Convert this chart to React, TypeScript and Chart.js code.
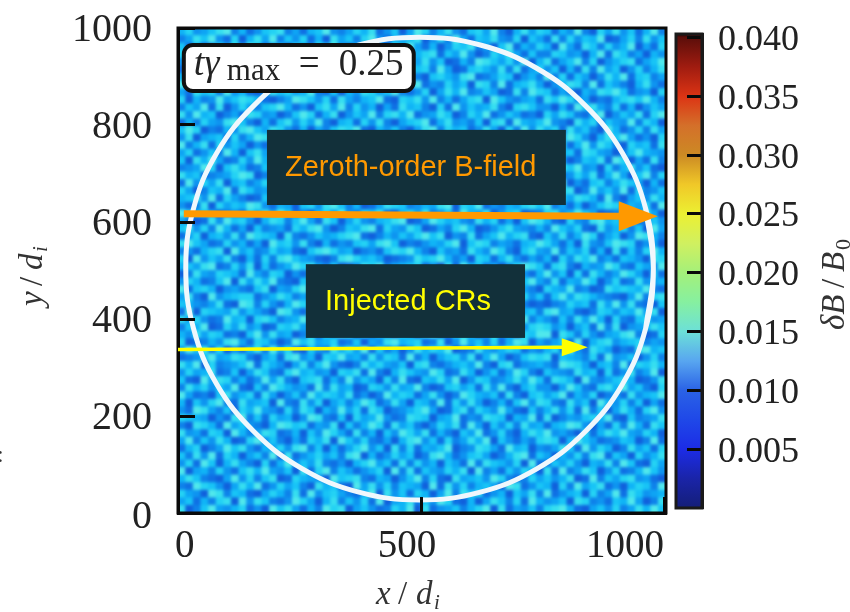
import React, { useEffect, useRef } from "react";
import { Chart, registerables } from "chart.js";
Chart.register(...registerables);

const SERIF = '"Liberation Serif", serif';
const SANS = '"Liberation Sans", sans-serif';

const xTicks = [0, 500, 1000];
const yTicks = [0, 200, 400, 600, 800, 1000];
const colorbarTicks = [0.005, 0.01, 0.015, 0.02, 0.025, 0.03, 0.035, 0.04];
const colorbarLevels = [0, 0.0025, 0.005, 0.0075, 0.01, 0.0125, 0.015, 0.0175, 0.02, 0.0225, 0.025, 0.0275, 0.03, 0.0325, 0.035, 0.0375, 0.04, 0.0403];
const colorbarColors = ["#141e78", "#1a24a8", "#1c2ce6", "#1f48e8", "#2a62e6", "#58a6f0", "#6ce0d8", "#86f0a0", "#a4f07a", "#d0f060", "#ecf032", "#f0c828", "#cc8a24", "#d4702a", "#dc3414", "#a01c10", "#5c0e0a", "#280606"];
const fieldPalette = ["#1060dc", "#0f70e4", "#0e82ea", "#0e94f0", "#0ea4f4", "#10b4f6", "#18c4f6", "#24d2f4", "#36def0", "#50e8ec"];

const fieldRows = [
"5734689251367824156932475813604972583167492058476153920748361592",
"2486931705849263715084627931546803729416583270641827365901472836",
"6150274839613507428693150742869415037682406915375094186273590417",
"7924813560278641935607284190362578164930275841622763405918624053",
"3409567182430756829143760582917483601529864739058146927035781469",
"1862730495674189250376819425308672940167538281473605182946037258",
"5278463912805361748924056179384206753891247603529271640385916724",
"9631057826472918035462971308645913274608729156840358729164205831",
"4186729351038674592160538746921370485923640182976142053879613407",
"7052394687510249863718425691076839251478096324518697340215786952",
"2649180374267951306849273504185620719364582078633051968427150364",
"8395602418734026971580364927859134860275913641207486215903648179",
"1527438962051683749205617382046791583426078195469320857164392750",
"6970215389648731504268791053620489275613840729385718462095137284",
"3804561725980267439651246830795316407829154632016249730586941307",
"9258173640317592801364509278462103956741289367544071593862075618",
"4713629506842136975829083415673890248165372901482956187430269543",
"6085941273958401267394620589137465820392618456737340265819704182",
"2349706851265789340167825934018526971439067824155186934072583610",
"8561234798023691756402351867940231589674025318960623748159406927",
"1937480562479153687245096732185679403851246093278490316725864051",
"7402659186340824519631782409653812764907358165421578029463917236",
"5683917420167238952018465974320967138526410782393064875192046385",
"3128074659831540673896250148762354890769132547869241503687254719",
"9756402317584961205749327681057482361954803670127835964012673840",
"4201839673058726941860473256890149756328571406985107328956491263",
"6837295140623417589302658917438601427950136843252964710835726094",
"1470563829765082136457891025364796803281469578106382597146039852",
"8964127351409673820513267489602135479068724315697415083269871340",
"2315780946237451068974502316879520634185397206843926471508162795",
"7093648205172896431028975640123867952407615831425073869241653087",
"5648912738061359784260138792456713081956240379861782053497216439",
"0284376519427603157896421053789041268530796423159360718524974061",
"3751269084859210673401589764235807192643810576942815496037128345",
"9167503421680437926153240871962438570915273684207549230186765921",
"4820935677135862409718653407521690345786401927361694875321049278",
"6532481098273159740284769130658274913620958472010237561849382106",
"1907654836420983175642017583940167289534186705628945102763659480",
"8473129560786245931867394025617830451297603849253162849507216734",
"2659017483501768429054321689072546938475120963787350461928034586",
"5384761206938450271639807253164089126750382417699086273145892017",
"7012538941763029684571260438956712803946271598042461905783567243",
"4968270315829471063285749162403857690128435761325729318640218956",
"1236945872046189350769452837619250467381594026878065427193460372",
"8590723469175304826931028574360782135649207813453198740562917685",
"3745812604862179563407681920586439712850361497206432856071382490",
"6109487251394820678152936407291065849037623584961875093246750138",
"2857364910629753419284501763845920167461839205733049621785946207",
"9412068357184036295764813029576148302975461820674691537024183569",
"5063792184560921837046259713840652917384025169387218460953726041",
"3198426075943172860539471860235794016827539410625837192604851793",
"7654031892617450398216074593128760459132876054918024367591062348",
"2087519463205986714380625971846203758194063728451569830417295186",
"8341760952487125063974182506397481520649137205869342071586943750",
"4926385017936204175809637214058936172485906314278705964123650291",
"1570249683154738926051479360827154690238741956032486193750284617",
"6283917504629081357462890513746028951367402589164053728916407358",
"3719605842071593648213057946182735064192865370912647305482961074",
"9045273168594360817926413570928164375809241637508192486037125963",
"5862104937268017543096782154036927108456397212746358019264783410",
"2197630485913746208561094837265409183725640981365072946813057629",
"7430982651047528193674215908361750492867135064829135607249186345",
"4615278093862139740582637190458263971050486271953460872316594028",
"8026943571309684152978046312759081346257908143627895104637248596",
];

const ringX = [962, 978, 962, 914, 837, 738, 622, 497, 372, 256, 157, 80, 32, 16, 32, 80, 157, 256, 372, 497, 622, 738, 837, 914, 962, 978, 962];
const ringY = [380, 504, 628, 743, 841, 917, 965, 981, 965, 917, 841, 743, 628, 504, 380, 265, 167, 91, 43, 27, 43, 91, 167, 265, 380, 504, 628];

const labelBox = { x0: 12, x1: 485, y0: 965, y1: 870 };
const orangeBox = { x0: 183, x1: 798, y0: 790, y1: 635, text: "Zeroth-order B-field", color: "#ff9900" };
const yellowBox = { x0: 263, x1: 714, y0: 513, y1: 361, text: "Injected CRs", color: "#ffff00" };
const orangeArrow = { x0: 12, y0: 617, x1: 987, y1: 612, color: "#ff9900" };
const yellowArrow = { x0: 0, y0: 337, x1: 843, y1: 342, color: "#ffff00" };

function softenAll(chart: any, px: number) {
  const c = chart.ctx;
  c.save();
  c.setTransform(1, 0, 0, 1, 0, 0);
  c.globalCompositeOperation = "copy";
  c.filter = `blur(${px}px)`;
  c.drawImage(c.canvas, 0, 0);
  c.restore();
}

function hexRgb(h: string) {
  return [parseInt(h.slice(1, 3), 16), parseInt(h.slice(3, 5), 16), parseInt(h.slice(5, 7), 16)];
}

const softenField = {
  id: "softenField",
  afterDatasetDraw(chart: any, args: any) {
    if (args.index !== 1) return;
    const c = chart.ctx, a = chart.chartArea;
    c.save();
    c.beginPath();
    c.rect(a.left, a.top, a.right - a.left, a.bottom - a.top);
    c.clip();
    c.filter = "blur(1.5px)";
    c.drawImage(c.canvas, 0, 0);
    c.restore();
  },
};

const nudgeMainLabels = {
  id: "nudgeMainLabels",
  beforeDraw(chart: any) {
    const xItems = chart.scales.x.getLabelItems();
    const yItems = chart.scales.y.getLabelItems();
    const xShift = [-3, -14, 0];
    xItems.forEach((it: any, i: number) => {
      it.options.translation = [it.options.translation[0] + xShift[i], it.options.translation[1] - 2];
    });
    yItems.forEach((it: any, i: number) => {
      it.options.translation = [it.options.translation[0] + 1, it.options.translation[1] + (i === 0 ? 4 : 2)];
    });
  },
};

const nudgeBarLabels = {
  id: "nudgeBarLabels",
  beforeDraw(chart: any) {
    chart.scales.y.getLabelItems().forEach((it: any) => {
      it.options.translation = [it.options.translation[0], it.options.translation[1] + 3];
    });
  },
};

function drawArrow(c: any, sx: any, sy: any, ar: any, w: number, headLen: number, headHalf: number) {
  const x0 = sx.getPixelForValue(ar.x0), y0 = sy.getPixelForValue(ar.y0);
  const x1 = sx.getPixelForValue(ar.x1), y1 = sy.getPixelForValue(ar.y1);
  c.strokeStyle = ar.color;
  c.fillStyle = ar.color;
  c.lineWidth = w;
  c.beginPath();
  c.moveTo(x0, y0);
  c.lineTo(x1 - headLen + 1, y1);
  c.stroke();
  c.beginPath();
  c.moveTo(x1, y1);
  c.lineTo(x1 - headLen, y1 - headHalf);
  c.lineTo(x1 - headLen, y1 + headHalf);
  c.closePath();
  c.fill();
}

const mainOverlay = {
  id: "mainOverlay",
  afterDraw(chart: any) {
    const c = chart.ctx, a = chart.chartArea;
    const sx = chart.scales.x, sy = chart.scales.y;
    c.save();
    c.strokeStyle = "#0a0a0a";
    c.lineWidth = 3;
    c.strokeRect(a.left, a.top, a.right - a.left, a.bottom - a.top);

    const bx0 = sx.getPixelForValue(labelBox.x0), bx1 = sx.getPixelForValue(labelBox.x1);
    const by0 = sy.getPixelForValue(labelBox.y0), by1 = sy.getPixelForValue(labelBox.y1);
    c.beginPath();
    c.roundRect(bx0, by0, bx1 - bx0, by1 - by0, 9);
    c.fillStyle = "#ffffff";
    c.fill();
    c.strokeStyle = "#111111";
    c.lineWidth = 4;
    c.stroke();

    c.fillStyle = "#222222";
    c.textBaseline = "alphabetic";
    c.textAlign = "left";
    c.font = `italic 38px ${SERIF}`;
    c.fillText("tγ", bx0 + 10, by0 + 30);
    c.font = `31px ${SERIF}`;
    c.fillText("max", bx0 + 43, by0 + 35);
    c.font = `37px ${SERIF}`;
    c.fillText("=", bx0 + 115, by0 + 30);
    c.fillText("0.25", bx0 + 155, by0 + 30);

    c.fillStyle = "#333333";
    c.font = `italic 33px ${SERIF}`;
    c.fillText("x", 376, 604);
    c.font = `33px ${SERIF}`;
    c.fillText("/", 398, 604);
    c.font = `italic 33px ${SERIF}`;
    c.fillText("d", 416, 604);
    c.font = `italic 21px ${SERIF}`;
    c.fillText("i", 434, 609);

    c.save();
    c.translate(42, 306);
    c.rotate(-Math.PI / 2);
    c.font = `italic 33px ${SERIF}`;
    c.fillText("y", 0, 0);
    c.font = `33px ${SERIF}`;
    c.fillText("/", 20, 0);
    c.font = `italic 33px ${SERIF}`;
    c.fillText("d", 36, 0);
    c.font = `italic 21px ${SERIF}`;
    c.fillText("i", 54, 5);
    c.restore();

    c.font = `24px ${SERIF}`;
    c.fillStyle = "#333333";
    c.fillText(":", -3, 462);
    c.restore();

    softenAll(chart, 0.7);

    c.save();
    for (const b of [orangeBox, yellowBox]) {
      const x0 = sx.getPixelForValue(b.x0), x1 = sx.getPixelForValue(b.x1);
      const y0 = sy.getPixelForValue(b.y0), y1 = sy.getPixelForValue(b.y1);
      c.fillStyle = "#12303a";
      c.fillRect(x0, y0, x1 - x0, y1 - y0);
    }
    drawArrow(c, sx, sy, orangeArrow, 7, 39, 15);
    drawArrow(c, sx, sy, yellowArrow, 3.5, 26, 9);
    c.textBaseline = "middle";
    c.textAlign = "left";
    c.font = `29px ${SANS}`;
    c.fillStyle = orangeBox.color;
    c.fillText(orangeBox.text, 285, 168);
    c.fillStyle = yellowBox.color;
    c.fillText(yellowBox.text, 325, 302);
    c.restore();
  },
};

const barOverlay = {
  id: "barOverlay",
  afterDraw(chart: any) {
    const c = chart.ctx, a = chart.chartArea;
    c.save();
    c.strokeStyle = "#1a1a1a";
    c.lineWidth = 3;
    c.strokeRect(a.left, a.top, a.right - a.left, a.bottom - a.top);
    c.save();
    c.translate(176, 330);
    c.rotate(-Math.PI / 2);
    c.fillStyle = "#333333";
    c.textAlign = "left";
    c.textBaseline = "alphabetic";
    c.font = `italic 33px ${SERIF}`;
    c.fillText("δB", 0, 0);
    c.font = `33px ${SERIF}`;
    c.fillText("/", 42, 0);
    c.font = `italic 33px ${SERIF}`;
    c.fillText("B", 58, 0);
    c.font = `22px ${SERIF}`;
    c.fillText("0", 80, 6);
    c.restore();
    c.restore();
    softenAll(chart, 0.7);
  },
};

export default function App() {
  const mainRef = useRef<HTMLCanvasElement>(null);
  const barRef = useRef<HTMLCanvasElement>(null);

  useEffect(() => {
    const nRows = fieldRows.length;
    const nCols = fieldRows[0].length;
    const XMAX = 1004;
    const cells: any[] = [];
    const cellColors: string[] = [];
    fieldRows.forEach((row, r) => {
      for (let i = 0; i < nCols; i++) {
        const d = Number(row[i]);
        cells.push({ x: ((i + 0.5) / nCols) * XMAX, y: 1000 - ((r + 0.5) / nRows) * 1000 });
        cellColors.push(fieldPalette[d]);
      }
    });
    const ring = ringX.map((x, i) => ({ x, y: ringY[i] }));

    const main = new Chart(mainRef.current!, {
      type: "scatter",
      data: {
        datasets: [
          {
            data: ring,
            showLine: true,
            borderColor: "#f0f7fc",
            borderWidth: 5,
            tension: 0.4,
            pointRadius: 0,
          },
          {
            data: cells,
            pointStyle: "rect",
            backgroundColor: cellColors,
            borderWidth: 0,
            pointRadius: (ctx: any) => {
              const a = ctx.chart.chartArea;
              return a ? ((a.right - a.left) / nCols + 0.8) / Math.SQRT2 : 5;
            },
          },
        ],
      } as any,
      options: {
        responsive: false,
        animation: false,
        events: [],
        layout: { autoPadding: false, padding: { left: 0, top: 28, right: 184, bottom: 0 } },
        plugins: { legend: { display: false }, tooltip: { enabled: false } },
        scales: {
          x: {
            type: "linear",
            min: 0,
            max: XMAX,
            afterBuildTicks: (ax: any) => { ax.ticks = xTicks.map((value) => ({ value })); },
            afterFit: (ax: any) => { ax.height = 99; ax.paddingLeft = 0; ax.paddingRight = 0; },
            grid: { drawOnChartArea: false, tickLength: -16, tickWidth: 3, tickColor: "#0a0a0a", z: 1 },
            border: { color: "#0a0a0a", width: 3, z: 1 },
            ticks: { font: { family: SERIF, size: 39 }, color: "#222222", padding: 28, maxRotation: 0, align: "inner", callback: (v: any) => String(v) },
          },
          y: {
            type: "linear",
            min: 0,
            max: 1000,
            afterBuildTicks: (ax: any) => { ax.ticks = yTicks.map((value) => ({ value })); },
            afterFit: (ax: any) => { ax.width = 178; ax.paddingTop = 0; ax.paddingBottom = 0; },
            grid: { drawOnChartArea: false, tickLength: -17, tickWidth: 3, tickColor: "#0a0a0a", z: 1 },
            border: { color: "#0a0a0a", width: 3, z: 1 },
            ticks: { font: { family: SERIF, size: 40 }, color: "#222222", padding: 44, callback: (v: any) => String(v) },
          },
        },
      } as any,
      plugins: [nudgeMainLabels, softenField, mainOverlay],
    });

    const cbMax = colorbarLevels[colorbarLevels.length - 1];
    const bar = new Chart(barRef.current!, {
      type: "bar",
      data: {
        labels: ["δB/B0"],
        datasets: [
          {
            data: [[0, cbMax]],
            barPercentage: 1,
            categoryPercentage: 1,
            borderWidth: 0,
            backgroundColor: (ctx: any) => {
              const sc = ctx.chart.scales?.y;
              const a = ctx.chart.chartArea;
              if (!sc || !a || !Number.isFinite(sc.getPixelForValue(0)) || !Number.isFinite(sc.getPixelForValue(cbMax))) return "#000";
              const g = ctx.chart.ctx.createLinearGradient(0, sc.getPixelForValue(0), 0, sc.getPixelForValue(cbMax));
              colorbarLevels.forEach((v, i) => {
                const [r, gg, b] = hexRgb(colorbarColors[i]);
                g.addColorStop(v / cbMax, `rgb(${r},${gg},${b})`);
              });
              return g;
            },
          },
        ],
      } as any,
      options: {
        responsive: false,
        animation: false,
        events: [],
        layout: { autoPadding: false, padding: { left: 8, top: 34, right: 0, bottom: 104 } },
        plugins: { legend: { display: false }, tooltip: { enabled: false } },
        scales: {
          x: { display: false },
          y: {
            position: "right",
            type: "linear",
            min: 0,
            max: cbMax,
            afterBuildTicks: (ax: any) => { ax.ticks = colorbarTicks.map((value) => ({ value })); },
            afterFit: (ax: any) => { ax.width = 148; ax.paddingTop = 0; ax.paddingBottom = 0; },
            grid: { drawOnChartArea: false, tickLength: -15, tickWidth: 3, tickColor: "#0a0a0a", z: 1 },
            border: { color: "#1a1a1a", width: 3, z: 1 },
            ticks: {
              font: { family: SERIF, size: 36 },
              color: "#222222",
              padding: 31,
              callback: (v: any) => Number(v).toFixed(3),
            },
          },
        },
      } as any,
      plugins: [nudgeBarLabels, barOverlay],
    });

    return () => {
      main.destroy();
      bar.destroy();
    };
  }, []);

  return (
    <div style={{ position: "absolute", left: 0, top: 0, width: 850, height: 612, background: "#fff", overflow: "hidden" }}>
      <canvas ref={mainRef} width={850} height={612} style={{ position: "absolute", left: 0, top: 0 }} />
      <canvas ref={barRef} width={182} height={612} style={{ position: "absolute", left: 668, top: 0 }} />
    </div>
  );
}
